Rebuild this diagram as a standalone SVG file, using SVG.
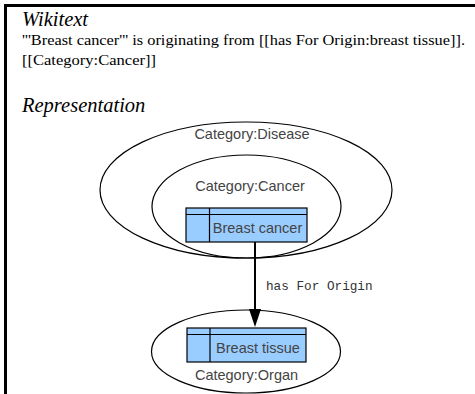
<svg xmlns="http://www.w3.org/2000/svg" width="475" height="394" viewBox="0 0 475 394">
<style>
.h{font-family:"Liberation Serif",serif;font-style:italic;font-size:20.5px;fill:#000}
.t{font-family:"Liberation Serif",serif;font-size:15px;fill:#000}
.c{font-family:"Liberation Sans",Arial,sans-serif;font-size:14.5px;fill:#444}
.m{font-family:"Liberation Mono",monospace;font-size:12.7px;fill:#333}
.e{fill:none;stroke:#000;stroke-width:1.2}
.b{fill:#99ccff;stroke:#000;stroke-width:1.2}
.k{fill:none;stroke:#000;stroke-width:1.2}
</style>
<g id="frame">
<path d="M5.5,394 V5.5 H475" fill="none" stroke="#000" stroke-width="3"/>
</g>
<g id="wikitext">
<text class="h" x="22" y="26">Wikitext</text>
<text class="t" x="22" y="45" textLength="443" lengthAdjust="spacingAndGlyphs">'''Breast cancer''' is originating from [[has For Origin:breast tissue]].</text>
<text class="t" x="22" y="65" textLength="134" lengthAdjust="spacingAndGlyphs">[[Category:Cancer]]</text>
<text class="h" x="22" y="112">Representation</text>
</g>
<g id="disease">
<ellipse class="e" cx="246" cy="190" rx="146" ry="68"/>
<text class="c" x="252" y="139" text-anchor="middle">Category:Disease</text>
</g>
<g id="cancer">
<ellipse class="e" cx="246.5" cy="206.5" rx="94.5" ry="51.5"/>
<text class="c" x="250" y="191" text-anchor="middle">Category:Cancer</text>
</g>
<g id="breast-cancer">
<rect class="b" x="186" y="208" width="121" height="34"/>
<path class="k" d="M186,214.5 H307 M209.5,208 V242"/>
<text class="c" x="257.5" y="233" text-anchor="middle">Breast cancer</text>
</g>
<g id="organ">
<ellipse class="e" cx="246" cy="351.5" rx="94.5" ry="41.5"/>
<text class="c" x="246.5" y="379.5" text-anchor="middle">Category:Organ</text>
</g>
<g id="breast-tissue">
<rect class="b" x="187" y="328" width="119" height="34"/>
<path class="k" d="M187,334.5 H306 M210,328 V362"/>
<text class="c" x="258" y="353" text-anchor="middle">Breast tissue</text>
</g>
<g id="connectors">
<line x1="255" y1="242" x2="255" y2="311" stroke="#000" stroke-width="2"/>
<polygon points="249,309 261,309 255,327" fill="#000"/>
<text class="m" x="266" y="290">has For Origin</text>
</g>
</svg>
